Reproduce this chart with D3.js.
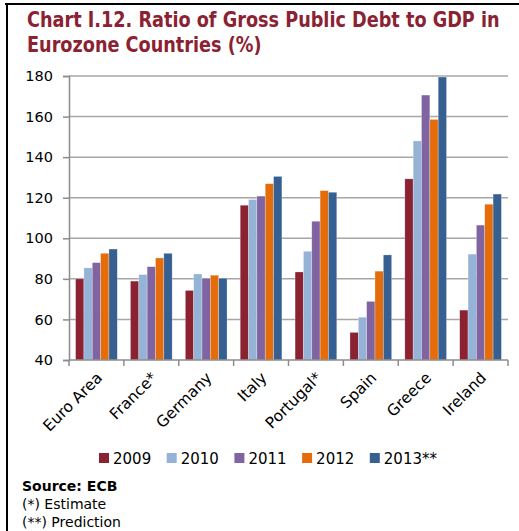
<!DOCTYPE html>
<html>
<head>
<meta charset="utf-8">
<script src="https://cdn.jsdelivr.net/npm/d3@7"></script>
<style>
  html, body { margin: 0; padding: 0; background: #fff; }
  svg { display: block; }
</style>
</head>
<body>
<svg id="chart" width="519" height="531"></svg>
<script>
// Gross public debt as % of GDP, by country and year
const countries = ["Euro Area", "France*", "Germany", "Italy", "Portugal*", "Spain", "Greece", "Ireland"];
const years = ["2009", "2010", "2011", "2012", "2013**"];
const debt2009 = [80.0, 78.9, 74.3, 116.3, 83.4, 53.6, 129.3, 64.6];
const debt2010 = [85.4, 82.1, 82.4, 119.1, 93.6, 61.1, 148.0, 92.2];
const debt2011 = [88.0, 86.0, 80.3, 120.8, 108.4, 68.9, 170.6, 106.5];
const debt2012 = [92.6, 90.3, 81.8, 126.9, 123.5, 83.8, 158.6, 116.8];
const debt2013 = [94.7, 92.6, 80.3, 130.5, 122.7, 91.8, 179.5, 121.8];
const yTicks = [40, 60, 80, 100, 120, 140, 160, 180];
const seriesColors = ["#8B2232", "#95B3D7", "#8064A2", "#E46C0A", "#376092"];

const seriesValues = [debt2009, debt2010, debt2011, debt2012, debt2013];
const svg = d3.select("#chart");
const FONT = "'DejaVu Sans', Verdana, sans-serif";

// Frame lines along the top and left edges
svg.append("line").attr("x1", 5).attr("x2", 519).attr("y1", 4).attr("y2", 4)
  .attr("stroke", "#000").attr("stroke-width", 2);
svg.append("line").attr("x1", 7).attr("x2", 7).attr("y1", 3).attr("y2", 531)
  .attr("stroke", "#000").attr("stroke-width", 2);

// Title, two lines, condensed horizontally to the available width
const titleG = svg.append("g");
const titleLines = ["Chart I.12. Ratio of Gross Public Debt to GDP in", "Eurozone Countries (%)"];
const tl = titleG.selectAll("text").data(titleLines).join("text")
  .attr("x", 0).attr("y", (d, i) => 27 + i * 25)
  .attr("font-family", FONT).attr("font-weight", "bold").attr("font-size", 21)
  .attr("fill", "#8B2232").text(d => d);
const w0 = tl.nodes()[0].getComputedTextLength();
titleG.attr("transform", `translate(27,0) scale(${473 / w0},1)`);

// Plot area
const plotL = 69, plotR = 508, plotT = 76, plotB = 360;

const y = d3.scaleLinear().domain([40, 180]).range([plotB, plotT]);
const x = d3.scaleBand().domain(countries).range([plotL, plotR])
  .paddingInner(0.24).paddingOuter(0.12);
const xs = d3.scaleBand().domain(years).range([0, x.bandwidth()]);

// Horizontal gridlines
svg.append("g").selectAll("line").data(yTicks.filter(t => t > 40)).join("line")
  .attr("x1", plotL).attr("x2", plotR)
  .attr("y1", d => y(d)).attr("y2", d => y(d))
  .attr("stroke", "#A6A6A6").attr("stroke-width", 1.5);

// Y axis
const yAxis = svg.append("g").attr("transform", `translate(${plotL},0)`)
  .call(d3.axisLeft(y).tickValues(yTicks).tickSize(6).tickPadding(10));
yAxis.select(".domain").attr("stroke", "#8C8C8C").attr("stroke-width", 1.5);
yAxis.selectAll(".tick line").attr("stroke", "#8C8C8C").attr("stroke-width", 1.5);
yAxis.selectAll(".tick text").attr("font-family", FONT).attr("font-size", 14.5)
  .attr("fill", "#000");

// Bars
const groups = svg.append("g").selectAll("g").data(countries).join("g")
  .attr("transform", d => `translate(${x(d)},0)`);
groups.selectAll("rect")
  .data((c, ci) => years.map((yr, si) => ({ yr, si, v: seriesValues[si][ci] })))
  .join("rect")
  .attr("x", d => xs(d.yr))
  .attr("width", xs.bandwidth())
  .attr("y", d => y(d.v))
  .attr("height", d => plotB - y(d.v))
  .attr("fill", d => seriesColors[d.si])
  .attr("stroke", "#fff").attr("stroke-opacity", 0.45).attr("stroke-width", 0.6);

// X axis with ticks at category boundaries
svg.append("line").attr("x1", plotL).attr("x2", plotR).attr("y1", plotB).attr("y2", plotB)
  .attr("stroke", "#8C8C8C").attr("stroke-width", 1.5);
svg.append("g").selectAll("line").data(d3.range(countries.length + 1)).join("line")
  .attr("x1", i => plotL + i * x.step())
  .attr("x2", i => plotL + i * x.step())
  .attr("y1", plotB).attr("y2", plotB + 6)
  .attr("stroke", "#8C8C8C").attr("stroke-width", 1.5);

// Rotated category labels
svg.append("g").selectAll("text").data(countries).join("text")
  .attr("transform", d => `translate(${x(d) + x.bandwidth() / 2 - 1},${plotB + 11}) rotate(-45)`)
  .attr("text-anchor", "end").attr("dy", "0.7em")
  .attr("font-family", FONT).attr("font-size", 15.5).attr("fill", "#000")
  .text(d => d);

// Legend
const legend = svg.append("g").selectAll("g").data(years).join("g")
  .attr("transform", (d, i) => `translate(${99 + i * 67.7},453)`);
legend.append("rect").attr("width", 10).attr("height", 10)
  .attr("fill", (d, i) => seriesColors[i]);
legend.append("text").attr("x", 14).attr("y", 11)
  .attr("font-family", FONT).attr("font-size", 15).attr("fill", "#000")
  .text(d => d);

// Source and notes
const notes = svg.append("g").attr("font-family", FONT).attr("fill", "#000");
notes.append("text").attr("x", 22).attr("y", 491).attr("font-size", 14)
  .attr("font-weight", "bold").text("Source: ECB");
notes.append("text").attr("x", 22).attr("y", 509).attr("font-size", 14).text("(*) Estimate");
notes.append("text").attr("x", 22).attr("y", 527).attr("font-size", 14).text("(**) Prediction");
</script>
</body>
</html>
